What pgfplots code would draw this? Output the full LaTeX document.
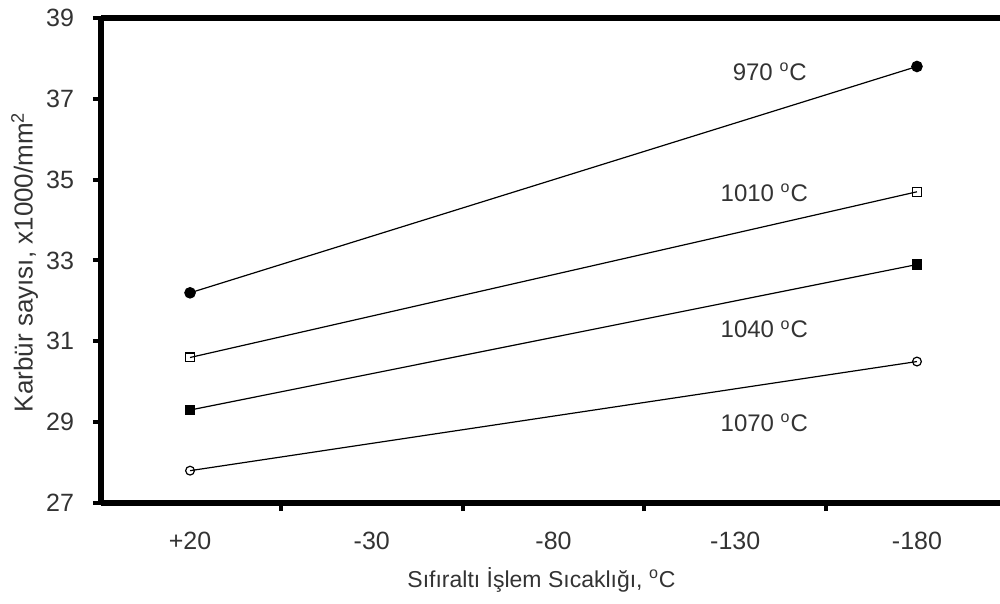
\documentclass[border=0pt]{standalone}
\usepackage{fontspec}
\setmainfont{Liberation Sans}
\usepackage{pgfplots}
\pgfplotsset{compat=1.18}

\begin{document}
\begin{tikzpicture}
\begin{axis}[
    name=ax,
    scale only axis,
    width=449.5pt, height=242.5pt,
    xmin=-0.49, xmax=4.457,
    ymin=27, ymax=39,
    axis x line*=bottom, axis y line*=left,
    axis line style={line width=2.6pt},
    tick align=outside,
    major tick length=4pt,
    tick style={line width=2pt, black},
    xtick={-0.5,0.5,1.5,2.5,3.5},
    xticklabels={},
    extra x ticks={0,1,2,3,4},
    extra x tick labels={+20,-30,-80,-130,-180},
    extra x tick style={major tick length=0pt},
    ytick={27,29,...,39},
    /pgf/number format/assume math mode=true,
    tick label style={font=\fontsize{12.5}{14}\selectfont, text=black!80},
    xticklabel style={yshift=-11pt},
    yticklabel style={xshift=-6pt},
    xlabel={Sıfıraltı İşlem Sıcaklığı, \textsuperscript{o}C},
    ylabel={Karbür sayısı, x1000/mm\textsuperscript{2}},
    xlabel style={font=\fontsize{11.5}{13}\selectfont, text=black!80,
        at={(axis description cs:0.49,-0.159)}, anchor=center},
    ylabel style={font=\fontsize{13}{15}\selectfont, text=black!80,
        at={(axis description cs:-0.085,0.497)}, anchor=center},
    clip=false,
]
\draw[line width=2.6pt] (rel axis cs:0,1) -- (rel axis cs:1,1);

\addplot[black, line width=0.6pt, mark=*, mark size=2.6pt] coordinates {(0,32.2) (4,37.8)};
\addplot[black, line width=0.6pt, mark=square, mark size=2.2pt, mark options={fill=white, line width=0.6pt}] coordinates {(0,30.6) (4,34.7)};
\addplot[black, line width=0.6pt, mark=square*, mark size=2.4pt] coordinates {(0,29.3) (4,32.9)};
\addplot[black, line width=0.6pt, mark=o, mark size=2.2pt, mark options={fill=white, line width=0.6pt}] coordinates {(0,27.8) (4,30.5)};

\begin{scope}[every node/.style={font=\fontsize{12}{14}\selectfont, text=black!80}]
\node at (axis cs:3.19,37.66) {970 \textsuperscript{o}C};
\node at (axis cs:3.16,34.67) {1010 \textsuperscript{o}C};
\node at (axis cs:3.16,31.30) {1040 \textsuperscript{o}C};
\node at (axis cs:3.16,28.98) {1070 \textsuperscript{o}C};
\end{scope}
\end{axis}
\pgfresetboundingbox
\path[use as bounding box] ([shift={(-50.5pt,-50.5pt)}]ax.south west) rectangle ([shift={(0pt,9pt)}]ax.north east);
\end{tikzpicture}
\end{document}
